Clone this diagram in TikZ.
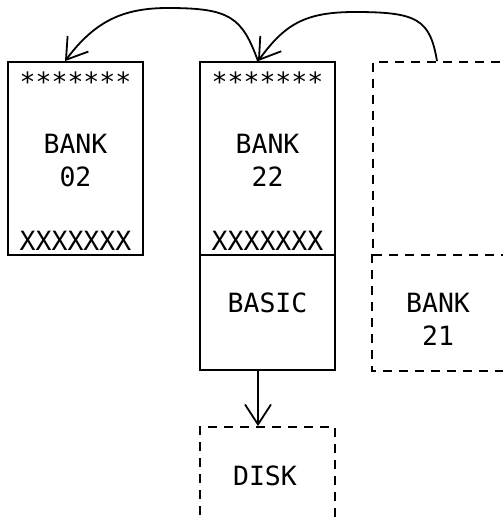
\documentclass[tikz,border=0pt]{standalone}
\usepackage{fontspec}
\setmainfont{DejaVu Sans Mono}
\usetikzlibrary{arrows.meta}

\begin{document}
\begin{tikzpicture}[x=1pt, y=-1pt, line width=1.8pt,
          bx/.style={draw, minimum width=135pt, inner sep=0pt},
          dsh/.style={dash pattern=on 9pt off 7pt},
          dbx/.style={bx, dsh},
          txt/.style={font=\fontsize{26.5}{33}\selectfont, inner sep=0pt, align=center},
          v/.style={-{Straight Barb[length=20pt,width=26pt,line width=1.8pt]}}]
        \clip (0,0) rectangle (503,522);
        \foreach \x/\n in {75.5/02,267.5/22}{
          \node[bx, minimum height=193pt] (bank\n) at (\x,158.5) {};
          \node[txt, anchor=base] (star\n) at (\x,91) {*******};
          \node[txt] (name\n) at (\x,160.5) {BANK\\\n};
          \node[txt, anchor=base] (fill\n) at (\x,250) {XXXXXXX};}
        \node[bx, minimum height=115pt] (basic) at (267.5,312.5) {};
        \node[txt] (basictxt) at (267.5,303) {BASIC};
        % dashed ones, the shared edge only once
        \node[dbx, minimum height=193pt] (free) at (440.5,158.5) {};
        \node[bx, draw=none, minimum height=115pt] (bank21) at (440.5,312.5) {};
        \draw[dsh] (bank21.north west) -- (bank21.south west) -- (bank21.south east) -- (bank21.north east);
        \node[txt] (name21) at (438,319) {BANK\\21};
        \node[dbx, minimum height=115pt] (disk) at (267.5,484.5) {};
        \node[txt] (disktxt) at (265,476) {DISK};
        \draw[v] ([xshift=-9.5pt]basic.south) -- ([xshift=-9.5pt]disk.north);
        % hops over the top, flat in the middle
        \draw[v] ([xshift=-9.5pt]bank22.north) .. controls +(-16,-44) and +(62,0) .. (168,8)
          .. controls +(-45,0) and +(30,-40) .. ([xshift=-10.5pt]bank02.north);
        \draw[v] ([xshift=-3.5pt]free.north) .. controls +(-7,-42) and +(62,0) .. (355,12)
          .. controls +(-50,0) and +(27,-37) .. ([xshift=-9.5pt]bank22.north);
      \end{tikzpicture}
\end{document}
